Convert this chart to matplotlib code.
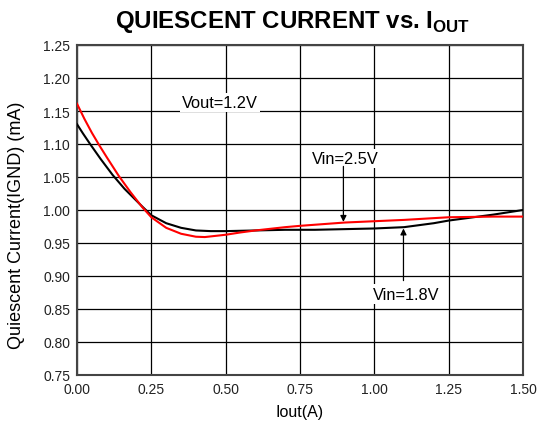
import matplotlib
matplotlib.use("Agg")
import matplotlib.pyplot as plt

plt.rcParams['font.family'] = ['Liberation Sans', 'DejaVu Sans']
plt.rcParams['mathtext.fontset'] = 'custom'
plt.rcParams['mathtext.bf'] = 'Liberation Sans:bold'
plt.rcParams['mathtext.rm'] = 'Liberation Sans'

# Vin = 1.8V (black)
x_18 = [0.00, 0.02, 0.044, 0.08, 0.12, 0.16, 0.20, 0.22, 0.25, 0.30, 0.35, 0.40,
        0.45, 0.50, 0.60, 0.70, 0.80, 0.90, 1.00, 1.10, 1.20, 1.25, 1.30, 1.35,
        1.40, 1.50]
y_18 = [1.130, 1.116, 1.100, 1.077, 1.053, 1.032, 1.014, 1.005, 0.992, 0.980,
        0.973, 0.969, 0.968, 0.968, 0.969, 0.970, 0.970, 0.971, 0.972, 0.974,
        0.980, 0.984, 0.987, 0.990, 0.993, 1.000]

# Vin = 2.5V (red)
x_25 = [0.00, 0.025, 0.05, 0.075, 0.10, 0.14, 0.18, 0.22, 0.25, 0.30, 0.35, 0.40,
        0.43, 0.50, 0.55, 0.60, 0.70, 0.75, 0.90, 1.00, 1.10, 1.25, 1.40, 1.50]
y_25 = [1.161, 1.138, 1.117, 1.098, 1.080, 1.052, 1.027, 1.004, 0.989, 0.973,
        0.964, 0.9595, 0.959, 0.9625, 0.966, 0.969, 0.974, 0.976, 0.981, 0.983,
        0.985, 0.989, 0.990, 0.990]

xticks = [0.00, 0.25, 0.50, 0.75, 1.00, 1.25, 1.50]
yticks = [0.75, 0.80, 0.85, 0.90, 0.95, 1.00, 1.05, 1.10, 1.15, 1.20, 1.25]

fig = plt.figure(figsize=(5.37, 4.27), dpi=100)
ax = fig.add_axes([77/537, 1-376/427, (523-77)/537, (376-46)/427])

ax.set_xlim(0, 1.5)
ax.set_ylim(0.75, 1.25)
ax.set_xticks(xticks)
ax.set_yticks(yticks)
ax.set_xticklabels([f"{v:.2f}" for v in xticks])
ax.set_yticklabels([f"{v:.2f}" for v in yticks])
ax.tick_params(length=0, labelsize=10, pad=5, colors='#222222')
ax.grid(True, color='black', linewidth=0.9, zorder=0)
for s in ax.spines.values():
    s.set_linewidth(1.5)
    s.set_color('#444444')

ax.plot(x_18, y_18, color='black', linewidth=1.5, zorder=3)
ax.plot(x_25, y_25, color='#ff0000', linewidth=1.5, zorder=3)

box = dict(facecolor='white', edgecolor='none', pad=1.5)
ax.text(0.481, 1.163, "Vout=1.2V", fontsize=11.8, ha='center', va='center', bbox=box, zorder=4)
ax.text(0.903, 1.078, "Vin=2.5V", fontsize=11.8, ha='center', va='center', bbox=box, zorder=4)
ax.text(1.107, 0.8727, "Vin=1.8V", fontsize=11.8, ha='center', va='center', bbox=box, zorder=4)

arr = dict(arrowstyle='-|>', color='black', lw=0.9, mutation_scale=9, shrinkA=0, shrinkB=0)
ax.annotate('', xy=(0.896, 0.982), xytext=(0.896, 1.066), arrowprops=arr, zorder=5)
ax.annotate('', xy=(1.098, 0.972), xytext=(1.098, 0.893), arrowprops=arr, zorder=5)

ax.set_xlabel("Iout(A)", fontsize=11.5)
ax.xaxis.set_label_coords((300-77)/446, -(405-376)/330)
ax.set_ylabel("Quiescent Current(IGND) (mA)", fontsize=13)
ax.yaxis.set_label_coords(-(77-25)/446, (376-225)/330)

fig.text(292.5/537, 1-22/427, r"QUIESCENT CURRENT vs. I$_{\mathbf{OUT}}$",
         fontsize=17.3, fontweight='bold', ha='center', va='center')

fig.savefig("out.png", dpi=100)
